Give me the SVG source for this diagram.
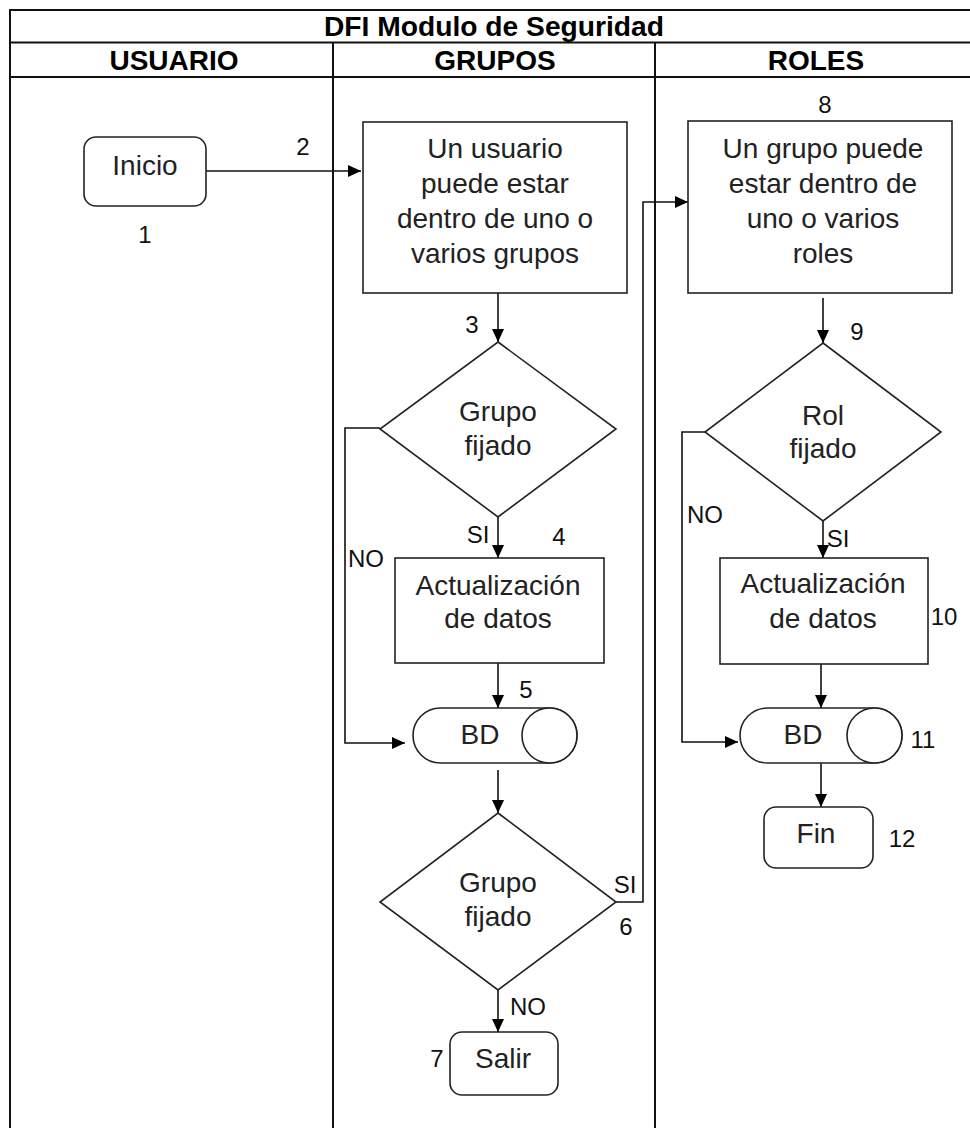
<svg xmlns="http://www.w3.org/2000/svg" width="970" height="1128" viewBox="0 0 970 1128">
<style>
.frame{fill:none;stroke:#111;stroke-width:2}
.shape{fill:#fff;stroke:#222;stroke-width:1.6}
.conn{fill:none;stroke:#111;stroke-width:1.6}
.t{font-family:"Liberation Sans",Arial,sans-serif;font-size:28px;fill:#222;text-anchor:middle}
.n{font-family:"Liberation Sans",Arial,sans-serif;font-size:24px;fill:#111;text-anchor:middle}
.h{font-family:"Liberation Sans",Arial,sans-serif;font-size:28px;font-weight:bold;fill:#000;text-anchor:middle}
</style>
<defs>
<marker id="arr" markerUnits="userSpaceOnUse" markerWidth="14" markerHeight="12" refX="13" refY="6" orient="auto">
<path d="M0,0 L13,6 L0,12 Z" fill="#000"/>
</marker>
</defs>
<rect width="970" height="1128" fill="#fff"/>
<g id="pool">
<rect class="frame" x="10" y="10" width="967" height="1130"/>
<line class="frame" x1="10" y1="42.5" x2="977" y2="42.5"/>
<line class="frame" x1="10" y1="77" x2="977" y2="77"/>
<line class="frame" x1="333" y1="42.5" x2="333" y2="1128"/>
<line class="frame" x1="655" y1="42.5" x2="655" y2="1128"/>
<text class="h" x="494" y="36" font-size="24" textLength="340" lengthAdjust="spacingAndGlyphs">DFI Modulo de Seguridad</text>
<text class="h" x="174" y="70">USUARIO</text>
<text class="h" x="495" y="70">GRUPOS</text>
<text class="h" x="816" y="70">ROLES</text>
</g>
<g id="connectors">
<path class="conn" d="M206 171 H361" marker-end="url(#arr)"/>
<path class="conn" d="M498 293 V342" marker-end="url(#arr)"/>
<path class="conn" d="M498 517 V558" marker-end="url(#arr)"/>
<path class="conn" d="M380 428 H345 V743 H405" marker-end="url(#arr)"/>
<path class="conn" d="M498 663 V708" marker-end="url(#arr)"/>
<path class="conn" d="M498 770 V813" marker-end="url(#arr)"/>
<path class="conn" d="M616 902 H643 V202 H688" marker-end="url(#arr)"/>
<path class="conn" d="M498 990 V1032" marker-end="url(#arr)"/>
<path class="conn" d="M823 298 V343" marker-end="url(#arr)"/>
<path class="conn" d="M823 521 V558" marker-end="url(#arr)"/>
<path class="conn" d="M705 432 H682 V742 H738" marker-end="url(#arr)"/>
<path class="conn" d="M821 664 V708" marker-end="url(#arr)"/>
<path class="conn" d="M821 763 V807" marker-end="url(#arr)"/>
<text class="n" x="478" y="543">SI</text>
<text class="n" x="366" y="567">NO</text>
<text class="n" x="625" y="893">SI</text>
<text class="n" x="528" y="1015">NO</text>
<text class="n" x="838" y="547">SI</text>
<text class="n" x="705" y="523">NO</text>
</g>
<g id="n1">
<rect class="shape" x="84" y="137" width="122" height="69" rx="12"/>
<text class="t" x="145" y="175">Inicio</text>
<text class="n" x="145" y="243">1</text>
</g>
<g id="n2">
<rect class="shape" x="363" y="122" width="264" height="171"/>
<text class="t" x="495" y="158">Un usuario</text>
<text class="t" x="495" y="193">puede estar</text>
<text class="t" x="495" y="228">dentro de uno o</text>
<text class="t" x="495" y="263">varios grupos</text>
<text class="n" x="303" y="155">2</text>
</g>
<g id="n3">
<polygon class="shape" points="498,342 616,429 498,517 380,429"/>
<text class="t" x="498" y="421">Grupo</text>
<text class="t" x="498" y="455">fijado</text>
<text class="n" x="472" y="333">3</text>
</g>
<g id="n4">
<rect class="shape" x="395" y="558" width="209" height="105"/>
<text class="t" x="498" y="595">Actualización</text>
<text class="t" x="498" y="628">de datos</text>
<text class="n" x="559" y="545">4</text>
</g>
<g id="n5">
<path class="shape" d="M440.5 708 H549.5 A27.5 27.5 0 0 1 549.5 763 H440.5 A27.5 27.5 0 0 1 440.5 708 Z"/>
<circle class="shape" cx="549.5" cy="735.5" r="27.5"/>
<text class="t" x="480" y="744">BD</text>
<text class="n" x="526" y="698">5</text>
</g>
<g id="n6">
<polygon class="shape" points="498,813 616,902 498,990 380,902"/>
<text class="t" x="498" y="892">Grupo</text>
<text class="t" x="498" y="926">fijado</text>
<text class="n" x="626" y="935">6</text>
</g>
<g id="n7">
<rect class="shape" x="450" y="1032" width="108" height="63" rx="12"/>
<text class="t" x="503" y="1068">Salir</text>
<text class="n" x="437" y="1067">7</text>
</g>
<g id="n8">
<rect class="shape" x="688" y="121" width="264" height="172"/>
<text class="t" x="823" y="158">Un grupo puede</text>
<text class="t" x="823" y="193">estar dentro de</text>
<text class="t" x="823" y="228">uno o varios</text>
<text class="t" x="823" y="263">roles</text>
<text class="n" x="825" y="113">8</text>
</g>
<g id="n9">
<polygon class="shape" points="823,343 941,432 823,521 705,432"/>
<text class="t" x="823" y="425">Rol</text>
<text class="t" x="823" y="458">fijado</text>
<text class="n" x="857" y="340">9</text>
</g>
<g id="n10">
<rect class="shape" x="720" y="558" width="208" height="106"/>
<text class="t" x="823" y="593">Actualización</text>
<text class="t" x="823" y="628">de datos</text>
<text class="n" x="944" y="625">10</text>
</g>
<g id="n11">
<path class="shape" d="M767.5 708 H874.5 A27.5 27.5 0 0 1 874.5 763 H767.5 A27.5 27.5 0 0 1 767.5 708 Z"/>
<circle class="shape" cx="874.5" cy="735.5" r="27.5"/>
<text class="t" x="803" y="744">BD</text>
<text class="n" x="923" y="748">11</text>
</g>
<g id="n12">
<rect class="shape" x="764" y="807" width="109" height="61" rx="12"/>
<text class="t" x="816" y="843">Fin</text>
<text class="n" x="902" y="847">12</text>
</g>
</svg>
